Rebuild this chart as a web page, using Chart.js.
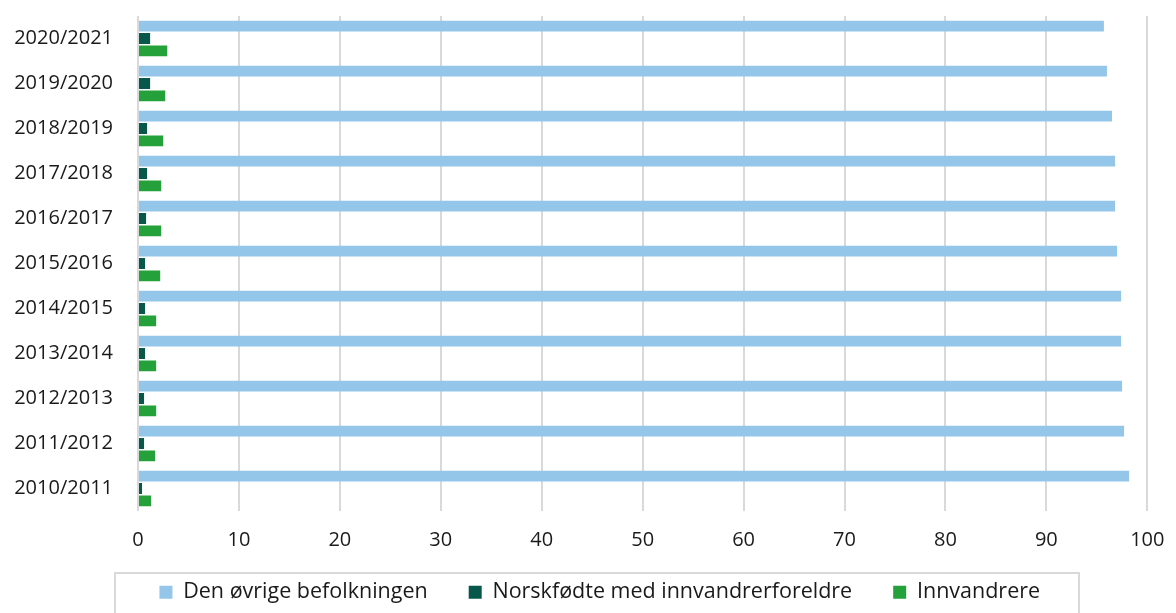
<!DOCTYPE html>
<html>
<head>
<meta charset="utf-8">
<script src="https://cdn.jsdelivr.net/npm/chart.js@4"></script>
<style>
html,body{margin:0;padding:0;background:#fff;}
#wrap{width:1176px;height:613px;position:relative;}
</style>
</head>
<body>
<div id="wrap"><canvas id="c" width="1176" height="613"></canvas></div>
<script>
const categories = ["2020/2021","2019/2020","2018/2019","2017/2018","2016/2017","2015/2016","2014/2015","2013/2014","2012/2013","2011/2012","2010/2011"];
const denOvrige = [95.7, 96.0, 96.5, 96.8, 96.8, 97.0, 97.4, 97.4, 97.5, 97.7, 98.2];
const norskfodte = [1.2, 1.2, 0.9, 0.9, 0.8, 0.7, 0.7, 0.7, 0.6, 0.6, 0.4];
const innvandrere = [2.9, 2.7, 2.5, 2.3, 2.3, 2.2, 1.8, 1.8, 1.8, 1.7, 1.3];
const seriesNames = ["Den øvrige befolkningen","Norskfødte med innvandrerforeldre","Innvandrere"];
const xTicks = [0,10,20,30,40,50,60,70,80,90,100];

const legendBox = {
  id: 'legendBox',
  afterLayout(chart){
    const x = chart.scales.x;
    x.bottom = x.top + 60;
    const L = chart.legend;
    L.left += 9.5; L.right += 9.5;
  },
  afterDraw(chart){
    const ctx = chart.ctx;
    ctx.save();
    ctx.strokeStyle = '#d9d9d9';
    ctx.lineWidth = 2;
    ctx.strokeRect(115, 573, 964, 60);
    ctx.restore();
  }
};

Chart.defaults.font.family = "'Open Sans', sans-serif";
Chart.defaults.color = '#1a1a1a';

new Chart(document.getElementById('c'), {
  type: 'bar',
  data: {
    labels: categories,
    datasets: [
      {label: seriesNames[0], data: denOvrige, backgroundColor: '#94c6ea'},
      {label: seriesNames[1], data: norskfodte, backgroundColor: '#07574a'},
      {label: seriesNames[2], data: innvandrere, backgroundColor: '#24a13b'}
    ]
  },
  options: {
    indexAxis: 'y',
    responsive: false,
    animation: false,
    devicePixelRatio: 1,
    layout: {padding: {left: 11, right: 6.5, top: 16, bottom: 0}},
    datasets: {bar: {categoryPercentage: 0.83, barPercentage: 0.87}},
    scales: {
      x: {
        min: 0, max: 100,
        afterBuildTicks(axis){ axis.ticks = xTicks.map(v => ({value: v})); },
        afterFit(axis){ axis.height = 29.5; axis.paddingRight = 28.7; },
        grid: {color: '#d9d9d9', lineWidth: 2, drawTicks: false},
        border: {display: false},
        ticks: {font: {size: 20}, padding: 17, color: '#1a1a1a'}
      },
      y: {
        afterFit(axis){ axis.width = 127; },
        grid: {display: false, tickLength: 22},
        border: {display: false},
        ticks: {font: {size: 20}, padding: 3, color: '#1a1a1a'}
      }
    },
    plugins: {
      legend: {
        position: 'bottom',
        labels: {boxWidth: 13, boxHeight: 13, font: {size: 21.5}, padding: 41, color: '#1a1a1a'}
      },
      tooltip: {enabled: false}
    }
  },
  plugins: [legendBox]
});
</script>
</body>
</html>
